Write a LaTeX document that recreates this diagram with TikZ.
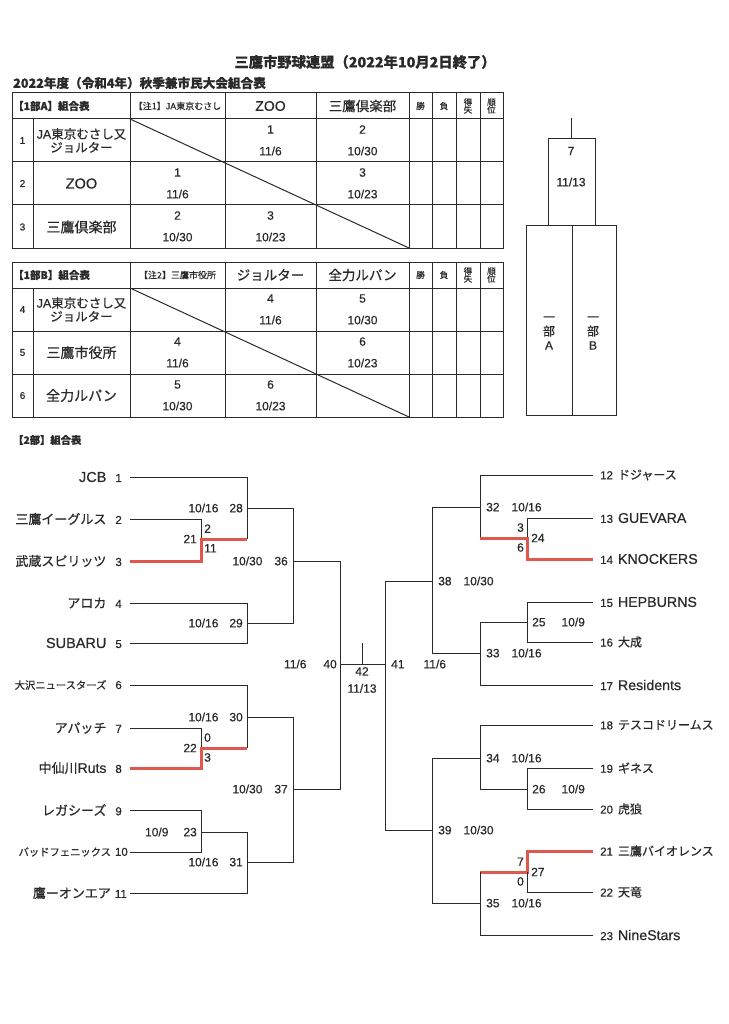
\documentclass[tikz,border=0pt]{standalone}
\usepackage{fontspec}
\setmainfont{Noto Sans CJK JP}[FakeBold=0.5]
\newfontfamily\lat{Liberation Sans}[FakeBold=0.5]
\usetikzlibrary{positioning}
\definecolor{ink}{HTML}{2A2A2A}
\definecolor{winred}{HTML}{E0574D}
\newcommand{\fsz}[1]{\fontsize{#1}{#1}\selectfont}

\tikzset{
  grid/.style={draw=ink, line width=1pt},
  ln/.style={draw=ink, line width=1pt},
  win/.style={draw=winred, line width=3pt},
  teamL/.style={anchor=east, inner sep=3pt, inner xsep=8pt, text=ink, font=\fsz{13}},
  teamR/.style={anchor=west, inner sep=3pt, inner xsep=7pt, text=ink, font=\fsz{12}},
  lbl/.style={inner sep=1pt, text=ink, font=\lat\fsz{12}},
  cell/.style={inner sep=0pt, text=ink, font=\lat\fsz{12}},
  head/.style={inner sep=0pt, text=ink, font=\fsz{13.5}},
  tiny/.style={inner sep=0pt, text=ink, font=\fsz{8.5}, align=center},
}

\begin{document}
\begin{tikzpicture}[x=1pt, y=-1pt]
\useasboundingbox[fill=white] (0,0) rectangle (728,1024);

% titles
\node[inner sep=0pt, text=ink, font=\bfseries\fsz{14.3}] (title) at (365,62) {三鷹市野球連盟（2022年10月2日終了）};
\node[inner sep=0pt, text=ink, font=\bfseries\fsz{12.6}, anchor=west] (sub) at (13,83) {2022年度（令和4年）秋季兼市民大会組合表};

% round robin tables
\foreach \t in {93,262} {
  \draw[grid] (12,\t) rectangle (503,\t+155);
  \foreach \x in {130,225,316,409,432,456,480} \draw[grid] (\x,\t) -- (\x,\t+155);
  \draw[grid] (33,\t+26) -- (33,\t+155);
  \foreach \y in {26,69,112} \draw[grid] (12,\t+\y) -- (503,\t+\y);
  \draw[grid] (130,\t+26) -- (409,\t+155);
}
\foreach \y [count=\k] in {106,275} {
  \node[tiny] (w\k) at (420.5,\y) {勝};
  \node[tiny] (l\k) at (444,\y) {負};
  \node[tiny] (g\k) at (468,\y) {得\\[-1pt]失};
  \node[tiny] (j\k) at (491.5,\y) {順\\[-1pt]位};
}

% table 1A
\node[inner sep=0pt, text=ink, font=\bfseries\fsz{10.5}, anchor=west] (hA) at (13,106) {【1部A】組合表};
\node[inner sep=0pt, text=ink, font=\fsz{9}] (noteA) at (177.5,106) {【注1】{\lat JA}東京むさし};
\node[head, font=\lat\fsz{14}] (hA2) at (270.5,106) {ZOO};
\node[head] (hA3) at (362.5,106) {三鷹倶楽部};
\node[cell, font=\lat\fsz{10}] (rA1) at (22.5,140.5) {1};
\node[cell, font=\lat\fsz{10}] (rA2) at (22.5,183.5) {2};
\node[cell, font=\lat\fsz{10}] (rA3) at (22.5,227) {3};
\node[head, align=center, font=\fsz{12.5}] (tA1) at (81.5,140.5) {{\lat JA}東京むさし又\\[1pt]ジョルター};
\node[head, font=\lat\fsz{14.5}] (tA2) at (81.5,183.5) {ZOO};
\node[head, font=\fsz{14}] (tA3) at (81.5,227) {三鷹倶楽部};
\foreach \cx/\cy/\g/\d [count=\i] in {270.5/129.5/1/11\slash6, 362.5/129.5/2/10\slash30,
    177.5/172.5/1/11\slash6, 362.5/172.5/3/10\slash23,
    177.5/215.5/2/10\slash30, 270.5/215.5/3/10\slash23} {
  \node[cell] (ga\i) at (\cx,\cy) {\g};
  \node[cell] (da\i) at (\cx,\cy+21.5) {\d};
}

% table 1B
\node[inner sep=0pt, text=ink, font=\bfseries\fsz{10.5}, anchor=west] (hB) at (13,275) {【1部B】組合表};
\node[inner sep=0pt, text=ink, font=\fsz{9}] (noteB) at (177.5,275) {【注2】三鷹市役所};
\node[head] (hB2) at (270.5,275) {ジョルター};
\node[head] (hB3) at (362.5,275) {全力ルパン};
\node[cell, font=\lat\fsz{10}] (rB1) at (22.5,309.5) {4};
\node[cell, font=\lat\fsz{10}] (rB2) at (22.5,352.5) {5};
\node[cell, font=\lat\fsz{10}] (rB3) at (22.5,395.5) {6};
\node[head, align=center, font=\fsz{12.5}] (tB1) at (81.5,309.5) {{\lat JA}東京むさし又\\[1pt]ジョルター};
\node[head, font=\fsz{14}] (tB2) at (81.5,352.5) {三鷹市役所};
\node[head, font=\fsz{14}] (tB3) at (81.5,395.5) {全力ルパン};
\foreach \cx/\cy/\g/\d [count=\i] in {270.5/298.5/4/11\slash6, 362.5/298.5/5/10\slash30,
    177.5/341.5/4/11\slash6, 362.5/341.5/6/10\slash23,
    177.5/384.5/5/10\slash30, 270.5/384.5/6/10\slash23} {
  \node[cell] (gb\i) at (\cx,\cy) {\g};
  \node[cell] (db\i) at (\cx,\cy+21.5) {\d};
}

% 1st division final
\draw[grid] (571,118) -- (571,139);
\draw[grid] (548,139) rectangle (595,226);
\draw[grid] (526,226) rectangle (616,415);
\draw[grid] (572,226) -- (572,415);
\node[cell] (f7) at (571,151) {7};
\node[cell] (f7d) at (571,182) {11/13};
\node[head, align=center, font=\fsz{12}] (secA) at (549,333) {一\\[2pt]部\\[2pt]{\lat A}};
\node[head, align=center, font=\fsz{12}] (secB) at (593,333) {一\\[2pt]部\\[2pt]{\lat B}};

% 2nd division
\node[inner sep=0pt, text=ink, font=\bfseries\fsz{10.3}, anchor=west] (h2) at (13,440) {【2部】組合表};

\node[teamL] (n1) at (130,477) {{\lat\fsz{14.5}JCB}\hspace{9pt}{\lat\fsz{11.5}1}};
\node[teamL] (n2) at (130,519) {三鷹イーグルス\hspace{9pt}{\lat\fsz{11.5}2}};
\node[teamL] (n3) at (130,561) {武蔵スピリッツ\hspace{9pt}{\lat\fsz{11.5}3}};
\node[teamL] (n4) at (130,603) {アロカ\hspace{9pt}{\lat\fsz{11.5}4}};
\node[teamL] (n5) at (130,643) {{\lat\fsz{14.5}SUBARU}\hspace{9pt}{\lat\fsz{11.5}5}};
\node[teamL, font=\fsz{10.3}] (n6) at (130,685) {大沢ニュースターズ\hspace{9pt}{\lat\fsz{11.5}6}};
\node[teamL] (n7) at (130,728) {アパッチ\hspace{9pt}{\lat\fsz{11.5}7}};
\node[teamL] (n8) at (130,768) {中仙川{\lat\fsz{14}Ruts}\hspace{9pt}{\lat\fsz{11.5}8}};
\node[teamL] (n9) at (130,810) {レガシーズ\hspace{9pt}{\lat\fsz{11.5}9}};
\node[teamL, font=\fsz{10.3}, inner xsep=2pt] (n10) at (130,852) {バッドフェニックス\hspace{4pt}{\lat\fsz{11.5}10}};
\node[teamL, inner xsep=3pt] (n11) at (130,893) {鷹ーオンエア\hspace{4pt}{\lat\fsz{11.5}11}};

\node[teamR] (n12) at (593,475) {{\lat\fsz{11.5}12}\hspace{5pt}ドジャース};
\node[teamR] (n13) at (593,518) {{\lat\fsz{11.5}13}\hspace{5pt}{\lat\fsz{14.2}GUEVARA}};
\node[teamR] (n14) at (593,559) {{\lat\fsz{11.5}14}\hspace{5pt}{\lat\fsz{14.2}KNOCKERS}};
\node[teamR] (n15) at (593,602) {{\lat\fsz{11.5}15}\hspace{5pt}{\lat\fsz{14.2}HEPBURNS}};
\node[teamR] (n16) at (593,642) {{\lat\fsz{11.5}16}\hspace{5pt}大成};
\node[teamR] (n17) at (593,685) {{\lat\fsz{11.5}17}\hspace{5pt}{\lat\fsz{14.2}Residents}};
\node[teamR] (n18) at (593,725) {{\lat\fsz{11.5}18}\hspace{5pt}テスコドリームス};
\node[teamR] (n19) at (593,768) {{\lat\fsz{11.5}19}\hspace{5pt}ギネス};
\node[teamR] (n20) at (593,809) {{\lat\fsz{11.5}20}\hspace{5pt}虎狼};
\node[teamR] (n21) at (593,851) {{\lat\fsz{11.5}21}\hspace{5pt}三鷹バイオレンス};
\node[teamR] (n22) at (593,892) {{\lat\fsz{11.5}22}\hspace{5pt}天竜};
\node[teamR] (n23) at (593,935) {{\lat\fsz{11.5}23}\hspace{5pt}{\lat\fsz{14.2}NineStars}};

% match points
\coordinate (m21) at (201,539);
\coordinate (m28) at (247,508);
\coordinate (m29) at (247,623);
\coordinate (m36) at (293,561);
\coordinate (m22) at (201,748);
\coordinate (m30) at (247,717);
\coordinate (m23) at (201,832);
\coordinate (m31) at (247,862);
\coordinate (m37) at (293,789);
\coordinate (m40) at (340,664);
\coordinate (m42) at (362,664);
\coordinate (t42) at (362,643);
\coordinate (m41) at (385,664);
\coordinate (m24) at (527,538);
\coordinate (m32) at (480,507);
\coordinate (m25) at (527,622);
\coordinate (m33) at (480,653);
\coordinate (m38) at (432,581);
\coordinate (m26) at (527,789);
\coordinate (m34) at (480,758);
\coordinate (m27) at (527,872);
\coordinate (m35) at (480,903);
\coordinate (m39) at (432,830);

% left half
\draw[ln] (n1.east) -| (m21 -| m28);
\draw[ln] (n2.east) -| (m21);
\draw[win] (n3.east) -| (m21) -- (m21 -| m28);
\draw[ln] (n4.east) -| (m29);
\draw[ln] (n5.east) -| (m29);
\draw[ln] (m28) -| (m36);
\draw[ln] (m29) -| (m36);
\draw[ln] (n6.east) -| (m22 -| m30);
\draw[ln] (n7.east) -| (m22);
\draw[win] (n8.east) -| (m22) -- (m22 -| m30);
\draw[ln] (n9.east) -| (m23);
\draw[ln] (n10.east) -| (m23);
\draw[ln] (m23) -| (m31);
\draw[ln] (n11.east) -| (m31);
\draw[ln] (m30) -| (m37);
\draw[ln] (m31) -| (m37);
\draw[ln] (m36) -| (m40);
\draw[ln] (m37) -| (m40);
\draw[ln] (m40) -- (m41);
\draw[ln] (m42) -- (t42);

% right half
\draw[ln] (n12.west) -| (m24 -| m32);
\draw[ln] (n13.west) -| (m24);
\draw[win] (n14.west) -| (m24) -- (m24 -| m32);
\draw[ln] (n15.west) -| (m25);
\draw[ln] (n16.west) -| (m25);
\draw[ln] (m25) -| (m33);
\draw[ln] (n17.west) -| (m33);
\draw[ln] (m32) -| (m38);
\draw[ln] (m33) -| (m38);
\draw[ln] (n18.west) -| (m26 -| m34) -- (m26);
\draw[ln] (n19.west) -| (m26);
\draw[ln] (n20.west) -| (m26);
\draw[win] (n21.west) -| (m27) -- (m27 -| m35);
\draw[ln] (n22.west) -| (m27);
\draw[ln] (n23.west) -| (m27 -| m35);
\draw[ln] (m34) -| (m39);
\draw[ln] (m35) -| (m39);
\draw[ln] (m38) -| (m41);
\draw[ln] (m39) -| (m41);

% match labels
\node[lbl, left=3pt of m28] (l28) {10/16\hspace{11pt}28};
\node[lbl, left=3pt of m29] (l29) {10/16\hspace{11pt}29};
\node[lbl, left=4pt of m36] (l36) {10/30\hspace{12pt}36};
\node[lbl, left=3pt of m30] (l30) {10/16\hspace{11pt}30};
\node[lbl, left=3pt of m31] (l31) {10/16\hspace{11pt}31};
\node[lbl, left=4pt of m37] (l37) {10/30\hspace{12pt}37};
\node[lbl, left=2pt of m40] (l40) {11/6\hspace{17pt}40};
\node[lbl, left=3pt of m23] (l23) {10/9\hspace{15pt}23};
\node[lbl, left=3pt of m21] (l21) {21};
\node[lbl, above right=5pt and 2pt of m21] (s2) {2};
\node[lbl, below right=4pt and 2pt of m21] (s11) {11};
\node[lbl, left=3pt of m22] (l22) {22};
\node[lbl, above right=5pt and 2pt of m22] (s0) {0};
\node[lbl, below right=4pt and 2pt of m22] (s3) {3};
\node[lbl, below=2pt of m42] (l42) {42};
\node[lbl, below=6pt of l42] (d42) {11/13};

\node[lbl, right=5pt of m32] (l32) {32\hspace{12pt}10/16};
\node[lbl, right=5pt of m33] (l33) {33\hspace{12pt}10/16};
\node[lbl, right=5pt of m34] (l34) {34\hspace{12pt}10/16};
\node[lbl, right=5pt of m35] (l35) {35\hspace{12pt}10/16};
\node[lbl, right=5pt of m38] (l38) {38\hspace{12pt}10/30};
\node[lbl, right=5pt of m39] (l39) {39\hspace{12pt}10/30};
\node[lbl, right=5pt of m41] (l41) {41\hspace{19pt}11/6};
\node[lbl, right=4pt of m25] (l25) {25\hspace{16pt}10/9};
\node[lbl, right=4pt of m26] (l26) {26\hspace{16pt}10/9};
\node[lbl, right=3pt of m24] (l24) {24};
\node[lbl, above left=5pt and 2pt of m24] (s3r) {3};
\node[lbl, below left=4pt and 2pt of m24] (s6r) {6};
\node[lbl, right=3pt of m27] (l27) {27};
\node[lbl, above left=5pt and 2pt of m27] (s7r) {7};
\node[lbl, below left=4pt and 2pt of m27] (s0r) {0};
\end{tikzpicture}
\end{document}
